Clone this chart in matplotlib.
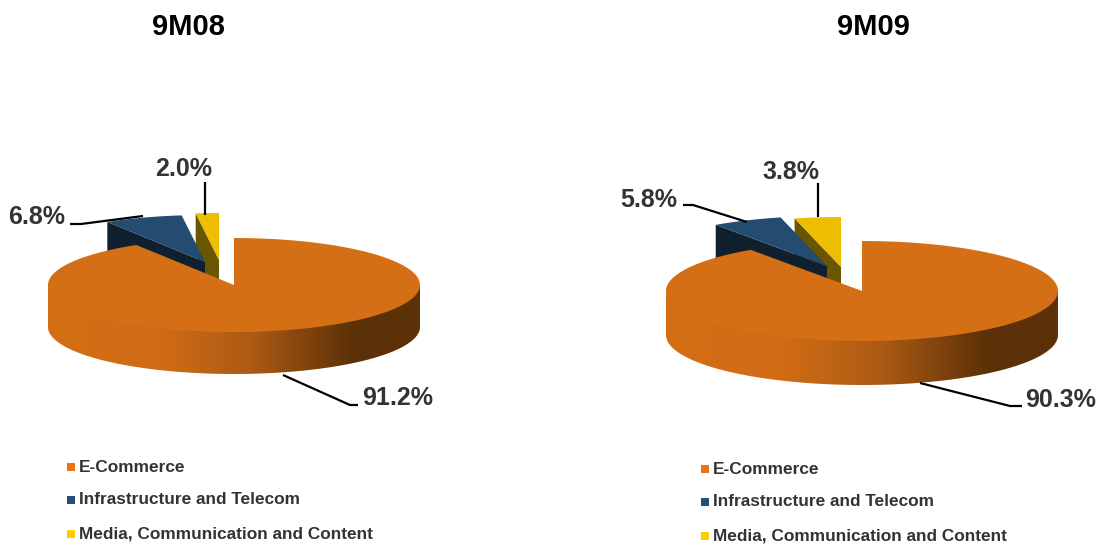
import numpy as np
import matplotlib.pyplot as plt
from matplotlib.colors import LinearSegmentedColormap
from matplotlib.patches import Polygon, Rectangle

plt.rcParams['font.family'] = ['Liberation Sans', 'DejaVu Sans']

categories = ['E-Commerce', 'Infrastructure and Telecom', 'Media, Communication and Content']
titles = ['9M08', '9M09']
shares_08 = [91.2, 6.8, 2.0]
shares_09 = [90.3, 5.8, 3.8]

TEXT = '#333333'
TOP = ['#D56F16', '#244B70', '#EDBE00']
CUT = [None, '#10202F', '#6A5500']
LEGEND = ['#E8751A', '#254E78', '#FFCC00']

wall_cmap = LinearSegmentedColormap.from_list(
    'wall', [(0, '#D56F16'), (0.3, '#D06C15'), (0.55, '#AC5A14'), (0.82, '#5C3108'), (1, '#5C3108')])


def rim(cx, cy, a, b, deg):
    t = np.radians(deg)
    return np.column_stack([cx + a * np.sin(t), cy - b * np.cos(t)])


def draw_pie(ax, shares, cx, cy, a, b, depth, offsets, z):
    # angles run clockwise from 12 o'clock, the slices follow in that order
    sweep = np.array(shares) / sum(shares) * 360
    edges = np.concatenate([[0], np.cumsum(sweep)])

    # smaller slices sit behind, pulled away from the centre
    for i in [2, 1]:
        x0, y0 = cx + offsets[i][0], cy + offsets[i][1]
        arc = rim(x0, y0, a, b, np.linspace(edges[i], edges[i + 1], 30))
        apex = np.array([x0, y0])
        cut = np.array([arc[0], apex, apex + [0, depth], arc[0] + [0, depth]])
        ax.add_patch(Polygon(cut, fc=CUT[i], ec='none', zorder=z))
        ax.add_patch(Polygon(np.vstack([apex, arc]), fc=TOP[i], ec='none', zorder=z))
        z += 1

    # outer wall of the big slice, shaded left to right, tucked under the top face
    front = rim(cx, cy, a, b, np.linspace(90, 270, 200))
    wall = Polygon(np.vstack([front - [0, 3], (front + [0, depth])[::-1]]), fc='none', ec='none')
    ax.add_patch(wall)
    im = ax.imshow(np.linspace(0, 1, 256)[None, :], cmap=wall_cmap, aspect='auto',
                   extent=[cx - a, cx + a, cy + b + depth, cy - b], zorder=z)
    im.set_clip_path(wall)

    arc = rim(cx, cy, a, b, np.linspace(edges[0], edges[1], 400))
    ax.add_patch(Polygon(np.vstack([[cx, cy], arc]), fc=TOP[0], ec='none', zorder=z + 1))


def label(ax, text, x, y, line):
    ax.plot(*zip(*line), color='black', lw=1.6, zorder=20, solid_capstyle='butt')
    ax.text(x, y, text, ha='center', va='center', fontsize=18, fontweight='bold', color=TEXT)


def legend(ax, x, ys):
    for name, color, y in zip(categories, LEGEND, ys):
        ax.add_patch(Rectangle((x, y - 4), 8, 8, fc=color, ec='none'))
        ax.text(x + 12, y, name, ha='left', va='center', fontsize=12.4,
                fontweight='bold', color=TEXT)


fig = plt.figure(figsize=(11.01, 5.45), dpi=100)
ax = fig.add_axes([0, 0, 1, 1])

ax.text(188, 27, titles[0], ha='center', va='center', fontsize=21, fontweight='bold', color='black')
ax.text(873, 27, titles[1], ha='center', va='center', fontsize=21, fontweight='bold', color='black')

draw_pie(ax, shares_08, 234, 285, 186, 47, 42, [None, (-29, -23), (-15, -25)], 2)
draw_pie(ax, shares_09, 862, 291, 196, 50, 44, [None, (-35, -25), (-21, -24)], 2)

label(ax, f'{shares_08[0]}%', 398, 398, [(283, 375), (350, 405), (358, 405)])
label(ax, f'{shares_08[1]}%', 37, 217, [(70, 224), (81, 224), (143, 216)])
label(ax, f'{shares_08[2]}%', 184, 169, [(205, 182), (205, 215)])
label(ax, f'{shares_09[0]}%', 1061, 400, [(920, 383), (1010, 406), (1022, 406)])
label(ax, f'{shares_09[1]}%', 649, 200, [(683, 205), (693, 205), (747, 222)])
label(ax, f'{shares_09[2]}%', 791, 172, [(818, 183), (818, 217)])

legend(ax, 67, [467, 500, 534])
legend(ax, 701, [469, 502, 536])

ax.set_xlim(0, 1101)
ax.set_ylim(545, 0)
ax.axis('off')

fig.savefig('out.png', dpi=100)
